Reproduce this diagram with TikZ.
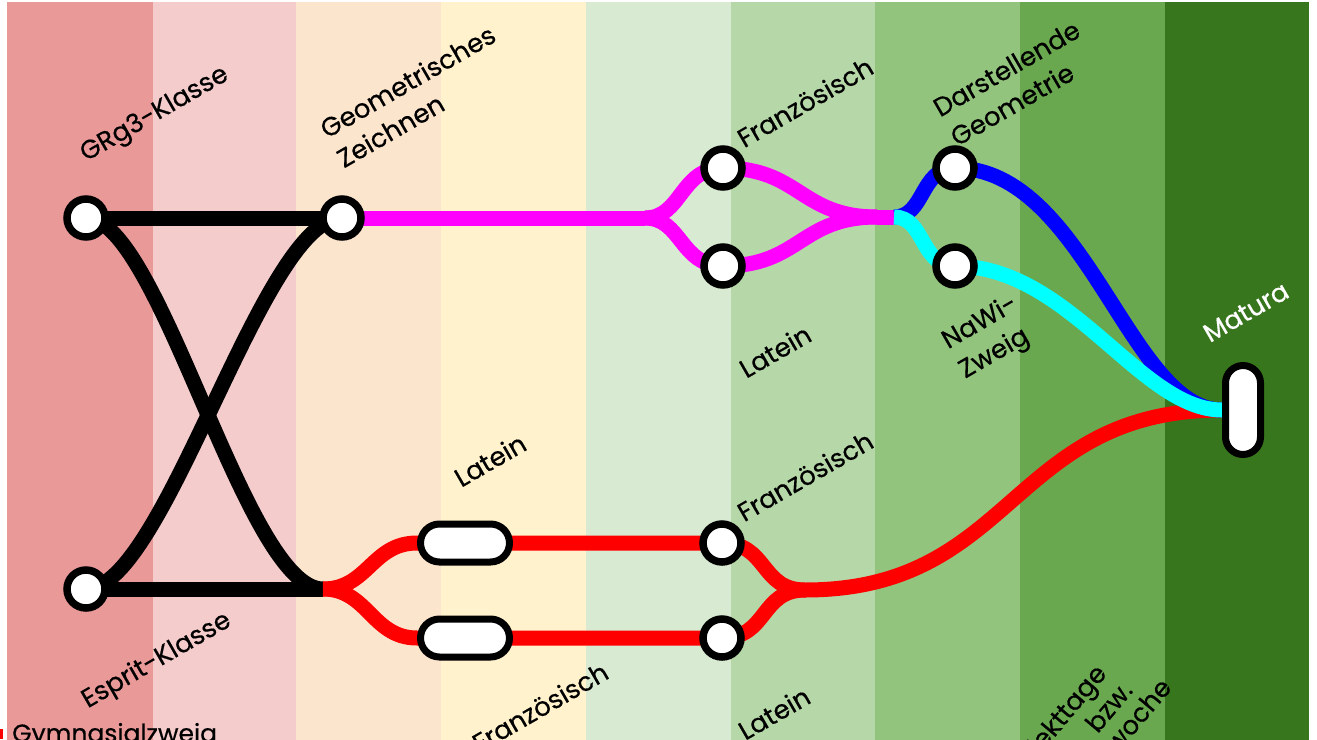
\documentclass[tikz,border=0pt]{standalone}
\usepackage{fontspec}
\setmainfont{Poppins}[UprightFeatures={FakeBold=0.5}]
\pgfdeclarelayer{bg}
\pgfdeclarelayer{lines}
\pgfsetlayers{bg,lines,main}
\definecolor{sA}{HTML}{EA9999}
\definecolor{sB}{HTML}{F4CCCC}
\definecolor{sC}{HTML}{FCE5CD}
\definecolor{sD}{HTML}{FFF2CC}
\definecolor{sE}{HTML}{D9EAD3}
\definecolor{sF}{HTML}{B6D7A8}
\definecolor{sG}{HTML}{93C47D}
\definecolor{sH}{HTML}{6AA84F}
\definecolor{sI}{HTML}{38761D}
\definecolor{mag}{HTML}{FF00FF}
\definecolor{blu}{HTML}{0000FF}
\definecolor{cya}{HTML}{00FFFF}
\definecolor{rd}{HTML}{FF0000}
\begin{document}
\begin{tikzpicture}[x=1pt,y=-1pt,
  rail/.style={line width=15pt},
  stop/.style={circle,draw=black,fill=white,line width=7.5pt,minimum size=38pt,inner sep=0pt},
  pill/.style={rectangle,draw=black,fill=white,line width=7pt,inner sep=0pt},
  lbl/.style={rotate=30,font=\fontsize{26}{34}\selectfont,align=left,inner sep=0pt},
  lblsteep/.style={rotate=50,font=\fontsize{26}{34}\selectfont,inner sep=0pt,anchor=base east}]
\useasboundingbox (0,0) rectangle (1317,739);
\begin{pgfonlayer}{bg}
\fill[white] (0,0) rectangle (1317,739);
\fill[sA] (7,2) rectangle (153,745);
\fill[sB] (153,2) rectangle (296,745);
\fill[sC] (296,2) rectangle (441,745);
\fill[sD] (441,2) rectangle (586,745);
\fill[sE] (586,2) rectangle (731,745);
\fill[sF] (731,2) rectangle (875,745);
\fill[sG] (875,2) rectangle (1020,745);
\fill[sH] (1020,2) rectangle (1165,745);
\fill[sI] (1165,2) rectangle (1309,745);
\end{pgfonlayer}
% stations
\node[stop] (g3) at (86,218) {};
\node[stop] (es) at (86,589) {};
\node[stop] (gz) at (342,218) {};
\node[stop] (f1) at (723,168) {};
\node[stop] (l1) at (723,266) {};
\node[stop] (dg) at (955,168) {};
\node[stop] (nw) at (955,266) {};
\node[pill,minimum width=89pt,minimum height=38pt,rounded corners=19pt] (l2) at (465,543) {};
\node[pill,minimum width=89pt,minimum height=38pt,rounded corners=19pt] (f3) at (465,638) {};
\node[stop] (f2) at (722,543) {};
\node[stop] (l3) at (722,638) {};
\node[pill,minimum width=35pt,minimum height=89pt,rounded corners=17.5pt] (ma) at (1243,410) {};
\coordinate (jb) at (323,589);
\coordinate (mf) at (645,218);
\coordinate (mj) at (877,217);
\coordinate (bj) at (894,217);
\coordinate (jr) at (805,590);
\begin{pgfonlayer}{lines}
\draw[rail,black] (g3.center) -- (gz.center);
\draw[rail,black] (es.center) -- (jb);
\draw[rail,black] (g3.center) .. controls (160,218) and (245,589) .. (jb);
\draw[rail,black] (es.center) .. controls (165,589) and (262,218) .. (gz.center);
\draw[rail,mag] (gz.center) -- (mf);
\draw[rail,mag] (mf) .. controls (682,218) and (680,168) .. (f1.center);
\draw[rail,mag] (mf) .. controls (682,218) and (680,266) .. (l1.center);
\draw[rail,mag] (f1.center) .. controls (800,168) and (800,217) .. (mj);
\draw[rail,mag] (l1.center) .. controls (800,266) and (800,217) .. (mj);
\draw[rail,mag] (mj) -- (bj);
\draw[rail,rd] (jb) .. controls (368,589) and (372,543) .. (l2.west) -- (l2.center) -- (f2.center);
\draw[rail,rd] (jb) .. controls (368,589) and (372,638) .. (f3.west) -- (f3.center) -- (l3.center);
\draw[rail,rd] (f2.center) .. controls (768,543) and (760,590) .. (jr);
\draw[rail,rd] (l3.center) .. controls (768,638) and (760,590) .. (jr);
\draw[rail,rd] (jr) .. controls (1015,590) and (1010,410) .. (ma.west);
\draw[rail,blu] (bj) .. controls (925,217) and (920,168) .. (dg.center);
\draw[rail,blu] (dg.center) .. controls (1085,168) and (1130,410) .. (ma.west);
\draw[rail,cya] (bj) .. controls (925,217) and (920,266) .. (nw.center);
\draw[rail,cya] (nw.center) .. controls (1070,266) and (1140,410) .. (ma.west);
\end{pgfonlayer}
% labels
\node[lbl] (tg3) at (155,115) {GRg3-Klasse};
\node[lbl] (tgz) at (416,96) {Geometrisches\\Zeichnen};
\node[lbl] (tf1) at (805,102) {Französisch};
\node[lbl] (tdg) at (1015,83) {Darstellende\\Geometrie};
\node[lbl] (tl1) at (775,351) {Latein};
\node[lbl] (tnw) at (989,338) {NaWi-\\Zweig};
\node[lbl,text=white] (tma) at (1246,312) {Matura};
\node[lbl] (tl2) at (490,460) {Latein};
\node[lbl] (tf2) at (805,476) {Französisch};
\node[lbl] (tes) at (157,661) {Esprit-Klasse};
\node[lbl] (tf3) at (540,707) {Französisch};
\node[lbl] (tl3) at (774,713) {Latein};
\node[lblsteep] (tp1) at (1108,674) {Projekttage};
\node[lblsteep] (tp2) at (1134,691) {bzw.};
\node[lblsteep] (tp3) at (1173,688) {Projektwoche};
\fill[rd] (0,729) rectangle (3,739);
\node[anchor=base west,inner sep=0pt,font=\fontsize{25}{30}\selectfont] (gym) at (12,742) {Gymnasialzweig};
\end{tikzpicture}
\end{document}
